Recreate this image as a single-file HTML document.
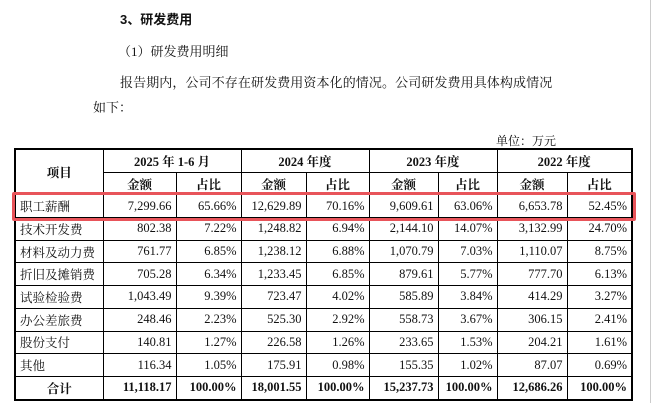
<!DOCTYPE html>
<html><head><meta charset="utf-8"><style>
body{margin:0;width:653px;height:403px;background:#fff;position:relative;overflow:hidden;font-family:"Liberation Serif","Noto Serif CJK SC",serif;color:#111}
.t{position:absolute;font-size:13px;white-space:nowrap;line-height:16px}
table{position:absolute;left:14px;top:148px;border-collapse:collapse;font-size:12.5px;border:2px solid #000}
td{border:1px solid #000;padding:0 4px;height:21.7px;text-align:right;white-space:nowrap}
td.l{text-align:left}
td.c{text-align:center;font-weight:bold}
tr.b td{font-weight:bold}
.box{position:absolute;left:12px;top:192px;width:618px;height:23px;border:3px solid #e8545a;border-radius:2px}
</style></head><body>
<div class="t" style="left:120px;top:12px;font-weight:bold;font-family:'Liberation Sans','Noto Sans CJK SC',sans-serif">3、研发费用</div>
<div class="t" style="left:118px;top:44px">（1）研发费用明细</div>
<div class="t" style="left:120px;top:75px;letter-spacing:0.1px">报告期内，公司不存在研发费用资本化的情况。公司研发费用具体构成情况</div>
<div class="t" style="left:93px;top:100px">如下：</div>
<div class="t" style="left:496px;top:133px;font-size:12px">单位：万元</div>
<table>
<colgroup><col style="width:88px"><col style="width:73px"><col style="width:65px"><col style="width:65px"><col style="width:63px"><col style="width:69px"><col style="width:59px"><col style="width:70px"><col style="width:65px"></colgroup>
<tr><td class="c" rowspan="2" style="text-align:center">项目</td><td class="c" colspan="2">2025 年 1-6 月</td><td class="c" colspan="2">2024 年度</td><td class="c" colspan="2">2023 年度</td><td class="c" colspan="2">2022 年度</td></tr>
<tr><td class="c">金额</td><td class="c">占比</td><td class="c">金额</td><td class="c">占比</td><td class="c">金额</td><td class="c">占比</td><td class="c">金额</td><td class="c">占比</td></tr>
<tr><td class="l">职工薪酬</td><td>7,299.66</td><td>65.66%</td><td>12,629.89</td><td>70.16%</td><td>9,609.61</td><td>63.06%</td><td>6,653.78</td><td>52.45%</td></tr>
<tr><td class="l">技术开发费</td><td>802.38</td><td>7.22%</td><td>1,248.82</td><td>6.94%</td><td>2,144.10</td><td>14.07%</td><td>3,132.99</td><td>24.70%</td></tr>
<tr><td class="l">材料及动力费</td><td>761.77</td><td>6.85%</td><td>1,238.12</td><td>6.88%</td><td>1,070.79</td><td>7.03%</td><td>1,110.07</td><td>8.75%</td></tr>
<tr><td class="l">折旧及摊销费</td><td>705.28</td><td>6.34%</td><td>1,233.45</td><td>6.85%</td><td>879.61</td><td>5.77%</td><td>777.70</td><td>6.13%</td></tr>
<tr><td class="l">试验检验费</td><td>1,043.49</td><td>9.39%</td><td>723.47</td><td>4.02%</td><td>585.89</td><td>3.84%</td><td>414.29</td><td>3.27%</td></tr>
<tr><td class="l">办公差旅费</td><td>248.46</td><td>2.23%</td><td>525.30</td><td>2.92%</td><td>558.73</td><td>3.67%</td><td>306.15</td><td>2.41%</td></tr>
<tr><td class="l">股份支付</td><td>140.81</td><td>1.27%</td><td>226.58</td><td>1.26%</td><td>233.65</td><td>1.53%</td><td>204.21</td><td>1.61%</td></tr>
<tr><td class="l">其他</td><td>116.34</td><td>1.05%</td><td>175.91</td><td>0.98%</td><td>155.35</td><td>1.02%</td><td>87.07</td><td>0.69%</td></tr>
<tr class="b"><td class="c" style="text-align:center">合计</td><td>11,118.17</td><td>100.00%</td><td>18,001.55</td><td>100.00%</td><td>15,237.73</td><td>100.00%</td><td>12,686.26</td><td>100.00%</td></tr>
</table>
<div class="box"></div>
<div style="position:absolute;left:650px;top:0;width:1px;height:403px;background:#ccc"></div>
</body></html>
